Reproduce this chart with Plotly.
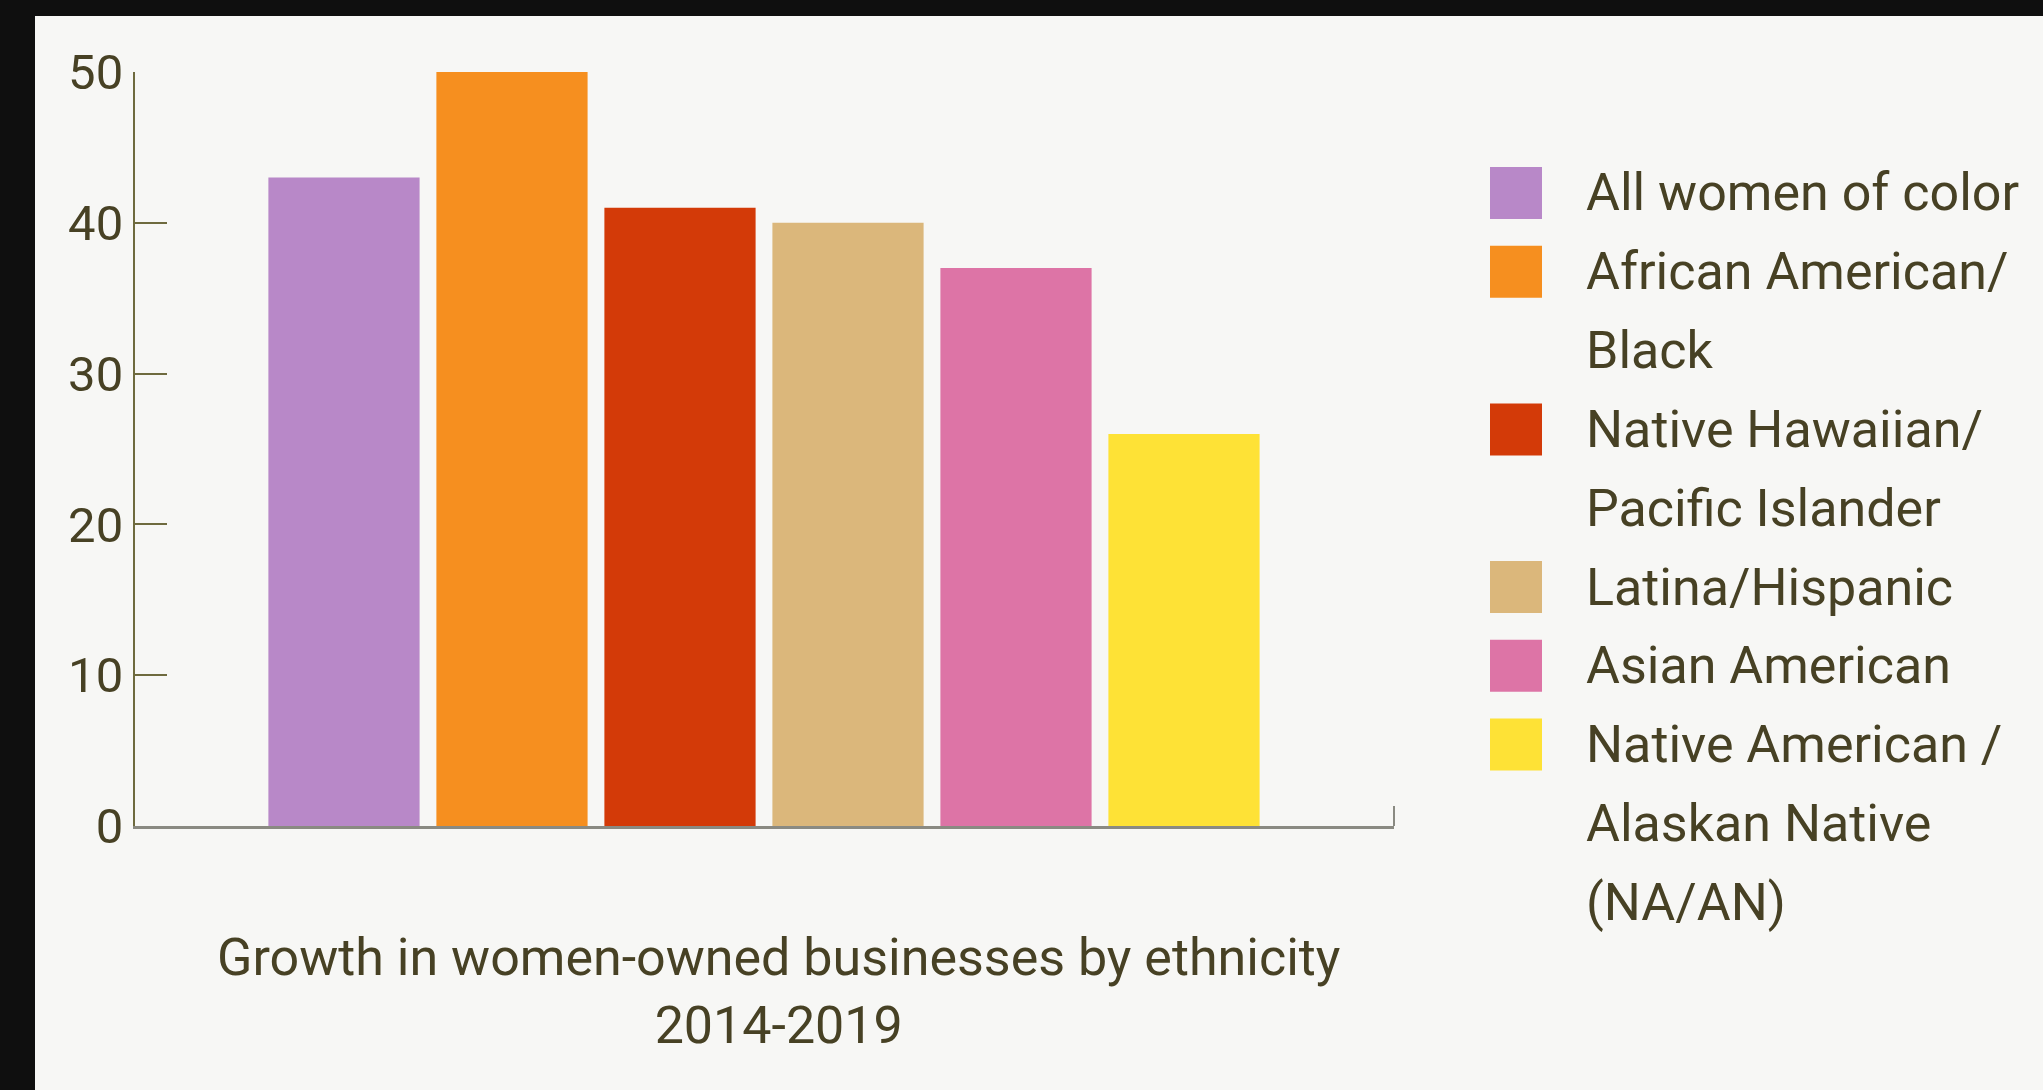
import plotly.graph_objects as go

# ---- data ----
categories = ["All women of color", "African American/ Black", "Native Hawaiian/ Pacific Islander",
              "Latina/Hispanic", "Asian American", "Native American / Alaskan Native (NA/AN)"]
values = [43, 50, 41, 40, 37, 26]
colors = ["#b888c8", "#f68f1f", "#d33a08", "#dbb77b", "#dd74a6", "#fee236"]
legend_lines = [["All women of color"],
                ["African American/", "Black"],
                ["Native Hawaiian/", "Pacific Islander"],
                ["Latina/Hispanic"],
                ["Asian American"],
                ["Native American /", "Alaskan Native", "(NA/AN)"]]
y_ticks = [0, 10, 20, 30, 40, 50]
title_text = "Growth in women-owned businesses by ethnicity<br>2014-2019"

# ---- layout geometry (pixels) ----
W, H = 2043, 1090
L, R, T, B = 135, 1394, 72, 826
TXT = "#474124"
FONT = "Roboto"

def px(xp):
    return (xp - L) / (R - L)

def py(yp):
    return (B - yp) / (B - T)

fig = go.Figure()
fig.add_trace(go.Bar(
    x=list(range(len(categories))), y=values,
    marker=dict(color=colors, line=dict(width=0)),
    hovertext=categories, showlegend=False,
))

shapes = []
annotations = []

# black photo borders
shapes.append(dict(type="rect", xref="paper", yref="paper", x0=px(-10), x1=px(35), y0=py(H + 10), y1=py(-10),
                   fillcolor="#0f0f0f", line=dict(width=0), layer="above"))
shapes.append(dict(type="rect", xref="paper", yref="paper", x0=px(-10), x1=px(W + 10), y0=py(16), y1=py(-10),
                   fillcolor="#0f0f0f", line=dict(width=0), layer="above"))
# small end tick of x axis
shapes.append(dict(type="line", xref="paper", yref="paper", x0=1, x1=1, y0=0, y1=py(806),
                   line=dict(color="#8a8a82", width=2)))

# custom legend
line_step = 78.8
y0 = 193
li = 0
for lines, c in zip(legend_lines, colors):
    yc = y0 + li * line_step
    shapes.append(dict(type="rect", xref="paper", yref="paper",
                       x0=px(1490), x1=px(1542), y0=py(yc + 26), y1=py(yc - 26),
                       fillcolor=c, line=dict(width=0)))
    for t in lines:
        yl = y0 + li * line_step
        annotations.append(dict(text=t, xref="paper", yref="paper", x=px(1584), y=py(yl),
                                xanchor="left", yanchor="middle", showarrow=False,
                                font=dict(family=FONT, size=52, color=TXT)))
        li += 1

# chart caption
annotations.append(dict(text=title_text, xref="paper", yref="paper", x=px(778), y=py(991),
                        xanchor="center", yanchor="middle", showarrow=False, align="center",
                        font=dict(family=FONT, size=52, color=TXT)))

fig.update_layout(
    width=W, height=H,
    margin=dict(l=L, r=W - R, t=T, b=H - B, pad=0),
    paper_bgcolor="#f7f7f5", plot_bgcolor="#f7f7f5",
    bargap=0.1,
    showlegend=False,
    shapes=shapes, annotations=annotations,
    font=dict(family=FONT, color=TXT),
    xaxis=dict(range=[-1.244, 6.25], showticklabels=False, ticks="", showgrid=False, zeroline=False,
               showline=True, linecolor="#8a8a82", linewidth=3, fixedrange=True),
    yaxis=dict(range=[0, 50], tickvals=y_ticks, ticks="inside", ticklen=32, tickwidth=2,
               tickcolor="#6e6a3e", showline=True, linecolor="#6e6a3e", linewidth=2,
               showgrid=False, zeroline=False, tickfont=dict(family=FONT, size=49, color=TXT),
               ticklabelstandoff=0),
)

fig.write_html("out.html")
